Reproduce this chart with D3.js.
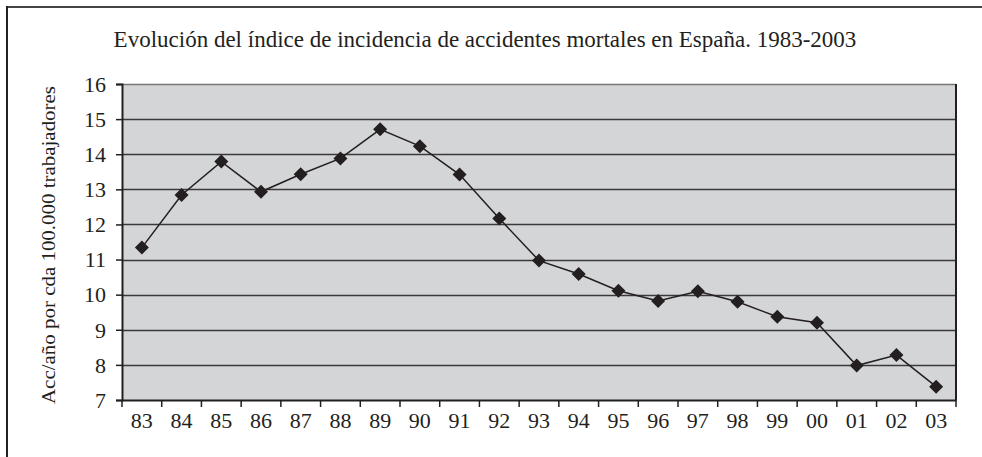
<!DOCTYPE html>
<html>
<head>
<meta charset="utf-8">
<script src="https://cdn.jsdelivr.net/npm/d3@7"></script>
<style>
  body { margin: 0; background: #fff; }
  text { font-family: "Liberation Serif", "DejaVu Serif", serif; fill: #231f20; }
</style>
</head>
<body>
<svg id="chart" width="982" height="457"></svg>
<script>
var years = ["83", "84", "85", "86", "87", "88", "89", "90", "91", "92", "93",
             "94", "95", "96", "97", "98", "99", "00", "01", "02", "03"];
var indice = [11.34, 12.84, 13.79, 12.93, 13.43, 13.88, 14.71, 14.23, 13.42, 12.17, 10.97,
              10.59, 10.11, 9.82, 10.10, 9.80, 9.37, 9.20, 7.98, 8.28, 7.38];
var yTicks = [7, 8, 9, 10, 11, 12, 13, 14, 15, 16];

var margin = {top: 84, right: 26, bottom: 57, left: 122};
var width = 982 - margin.left - margin.right;
var height = 457 - margin.top - margin.bottom;

var svg = d3.select("#chart");

// frame (only top and left edges are visible)
svg.append("line").attr("x1", 6).attr("x2", 982).attr("y1", 7).attr("y2", 7)
  .attr("stroke", "#444").attr("stroke-width", 2);
svg.append("line").attr("x1", 7).attr("x2", 7).attr("y1", 6).attr("y2", 457)
  .attr("stroke", "#222").attr("stroke-width", 2);

svg.append("text")
  .attr("x", 485).attr("y", 47)
  .attr("text-anchor", "middle")
  .style("font-size", "23px")
  .text("Evolución del índice de incidencia de accidentes mortales en España. 1983-2003");

var g = svg.append("g").attr("transform", "translate(" + margin.left + "," + margin.top + ")");

var x = d3.scaleBand().domain(years).range([0, width]);
var y = d3.scaleLinear().domain([7, 16]).range([height, 0]);

g.append("rect").attr("width", width).attr("height", height).attr("fill", "#d4d5d7");

g.append("g")
  .selectAll("line")
  .data(yTicks.slice(1))
  .join("line")
    .attr("x1", 0).attr("x2", width)
    .attr("y1", d => Math.round(y(d)) + 0.5).attr("y2", d => Math.round(y(d)) + 0.5)
    .attr("stroke", d => d == 16 ? "#777" : "#3a3a3a")
    .attr("stroke-width", 1.6);

// right edge
g.append("line").attr("x1", width).attr("x2", width).attr("y1", 0).attr("y2", height)
  .attr("stroke", "#231f20").attr("stroke-width", 2);

var yAxis = g.append("g")
  .call(d3.axisLeft(y).tickValues(yTicks).tickSize(6).tickPadding(10).tickFormat(d3.format("d")));
yAxis.select(".domain").attr("stroke", "#231f20").attr("stroke-width", 2);
yAxis.selectAll(".tick line").attr("stroke", "#231f20").attr("stroke-width", 1.5);
yAxis.selectAll("text").style("font-size", "22px").attr("dy", "0.33em");

var xAxis = g.append("g")
  .attr("transform", "translate(0," + height + ")")
  .call(d3.axisBottom(x).tickSize(0).tickPadding(12));
xAxis.select(".domain").attr("stroke", "#231f20").attr("stroke-width", 2);
xAxis.selectAll("text").style("font-size", "22px");

// ticks between categories
g.append("g")
  .selectAll("line")
  .data(d3.range(years.length + 1))
  .join("line")
    .attr("x1", i => i * x.step()).attr("x2", i => i * x.step())
    .attr("y1", height).attr("y2", height + 7)
    .attr("stroke", "#231f20").attr("stroke-width", 1.5);

svg.append("text")
  .attr("transform", "translate(55,245) rotate(-90)")
  .attr("text-anchor", "middle")
  .attr("textLength", 318)
  .attr("lengthAdjust", "spacingAndGlyphs")
  .style("font-size", "19px")
  .text("Acc/año por cda 100.000 trabajadores");

var line = d3.line()
  .x((d, i) => x(years[i]) + x.bandwidth() / 2)
  .y(d => y(d));

g.append("path")
  .datum(indice)
  .attr("fill", "none")
  .attr("stroke", "#231f20")
  .attr("stroke-width", 1.5)
  .attr("d", line);

g.append("g")
  .selectAll("path")
  .data(indice)
  .join("path")
    .attr("transform", (d, i) => "translate(" + (x(years[i]) + x.bandwidth() / 2) + "," + y(d) + ")")
    .attr("d", "M0,-7L7,0L0,7L-7,0Z")
    .attr("fill", "#231f20");
</script>
</body>
</html>
